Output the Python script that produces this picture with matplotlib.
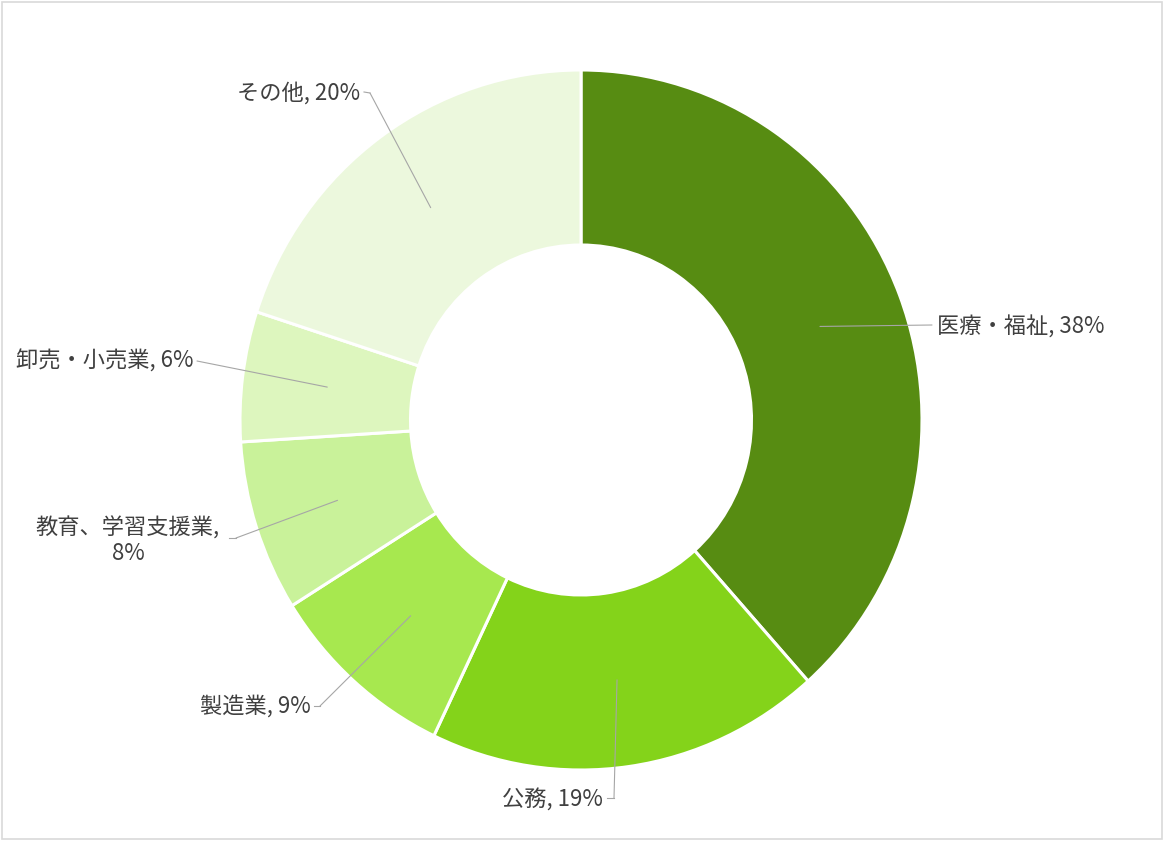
import matplotlib
matplotlib.use("Agg")
import matplotlib.pyplot as plt
import numpy as np
from matplotlib.lines import Line2D
from matplotlib.patches import Rectangle

plt.rcParams['font.family'] = ['Noto Sans CJK JP', 'DejaVu Sans']

# data (shares; labels show rounded values)
categories = ['医療・福祉', '公務', '製造業', '教育、学習支援業', '卸売・小売業', 'その他']
shares = [38.4, 18.7, 9.0, 7.9, 6.0, 20.0]
colors = ['#578C12', '#84D31A', '#A7E84F', '#C9F29A', '#DDF6BE', '#ECF8DD']
label_texts = ['医療・福祉, 38%', '公務, 19%', '製造業, 9%', '教育、学習支援業,\n8%', '卸売・小売業, 6%', 'その他, 20%']

W, H = 1165, 842

# label layout in image pixels (y from top): text anchor, ha, leader bend points
label_pos = [
    ((937, 327), 'left', [(932, 325)]),
    ((603, 800), 'right', [(614, 798), (607, 798)]),
    ((311, 706), 'right', [(320, 706), (314, 706)]),
    ((128, 541), 'center', [(236, 538), (229, 538)]),
    ((193, 361), 'right', [(197, 361)]),
    ((360, 93), 'right', [(370, 93), (364, 92)]),
]

fig = plt.figure(figsize=(W / 100, H / 100), dpi=100)
fig.patch.set_facecolor('white')

ax = fig.add_axes([240 / W, 72 / H, 682 / W, 700 / H])
wedges, _ = ax.pie(shares, colors=colors, startangle=90, counterclock=False,
                   radius=1.0, wedgeprops=dict(width=0.5, edgecolor='white', linewidth=2.2))
ax.set_aspect('auto')
ax.set_xlim(-1, 1)
ax.set_ylim(-1, 1)
ax.axis('off')

def px(x, y):
    return x / W, 1 - y / H

for w, txt, (tpos, ha, bends) in zip(wedges, label_texts, label_pos):
    mid = np.deg2rad((w.theta1 + w.theta2) / 2)
    p = (0.75 * np.cos(mid), 0.75 * np.sin(mid))
    # leader from the ring to the first bend
    ax.annotate('', xy=p, xycoords='data', xytext=px(*bends[0]), textcoords='figure fraction',
                arrowprops=dict(arrowstyle='-', color='#a6a6a6', lw=0.8, shrinkA=0, shrinkB=0))
    if len(bends) > 1:
        xs = [px(*b)[0] for b in bends]
        ys = [px(*b)[1] for b in bends]
        fig.add_artist(Line2D(xs, ys, transform=fig.transFigure, color='#a6a6a6', lw=0.8))
    fig.text(*px(*tpos), txt, ha=ha, va='center', fontsize=16, color='#404040',
             multialignment='center', linespacing=1.15)

# outer frame
fig.add_artist(Rectangle((1.5 / W, 3 / H), (W - 5) / W, (H - 4.5) / H, transform=fig.transFigure,
                         fill=False, edgecolor='#d9d9d9', lw=1.2))

fig.savefig('out.png', dpi=100, facecolor='white')
